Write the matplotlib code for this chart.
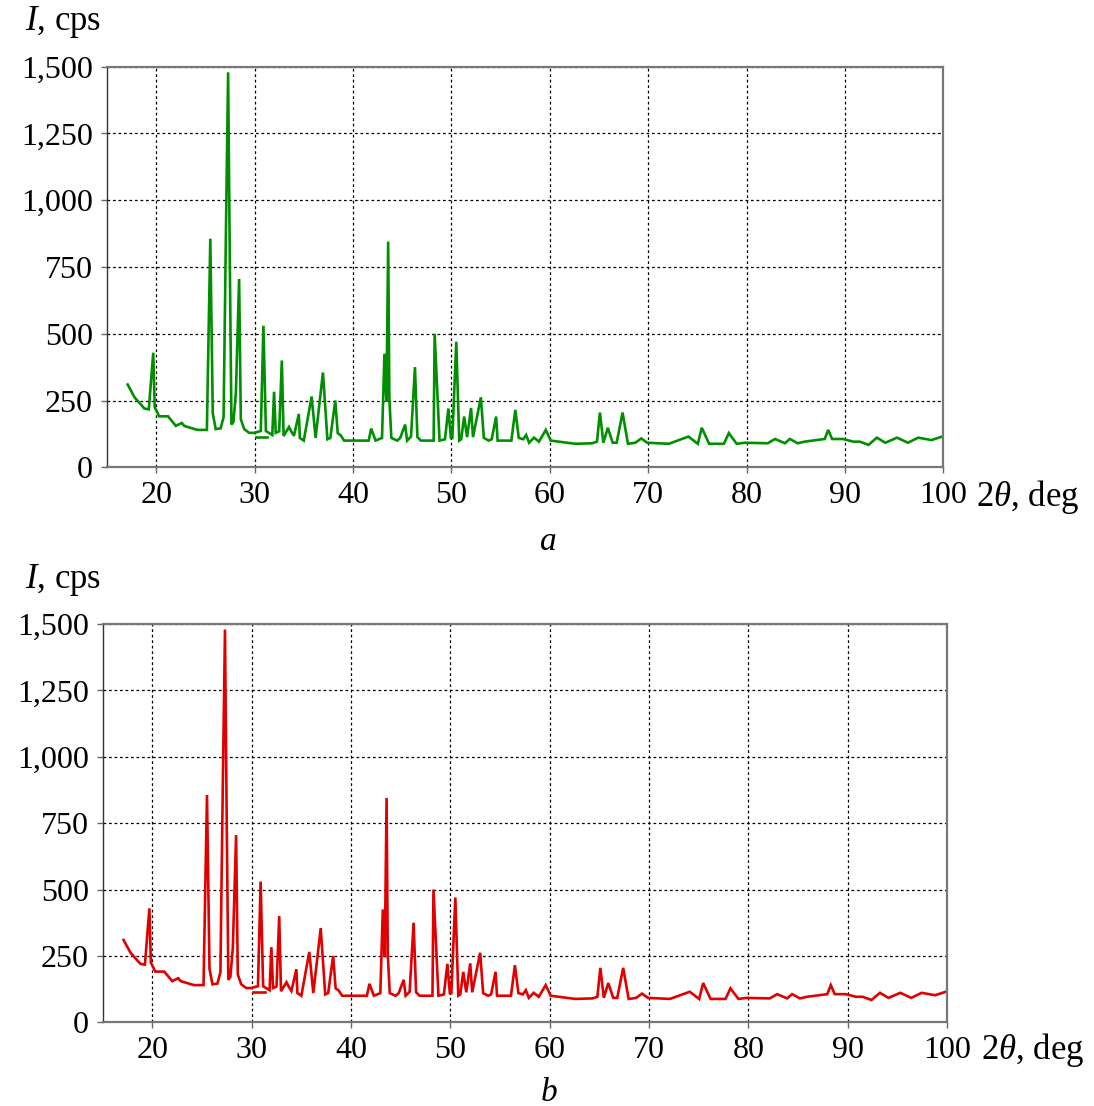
import numpy as np
import matplotlib
matplotlib.use('Agg')
import matplotlib.pyplot as plt
from matplotlib.ticker import FuncFormatter

plt.rcParams['font.family'] = ['Liberation Serif', 'DejaVu Serif']
plt.rcParams['mathtext.fontset'] = 'custom'
plt.rcParams['mathtext.rm'] = 'Liberation Serif'
plt.rcParams['mathtext.it'] = 'Liberation Serif:italic'

# diffraction pattern (2theta in deg, intensity in cps)
two_theta = [17.1, 17.8, 18.8, 19.25, 19.7, 19.85, 20.3, 21.2, 22.0, 22.6, 22.85, 24.2,
             25.15, 25.5, 25.75, 26.05, 26.55, 26.85, 27.08, 27.31, 27.49, 27.65, 27.85,
             28.1, 28.43, 28.6, 28.95, 29.45, 29.95, 30.63, 30.9, 31.15, 31.8, 31.98,
             32.15, 32.5, 32.77, 32.95, 33.5, 33.7, 34.0, 34.5, 34.6, 35.0, 35.8, 36.2,
             36.95, 37.4, 37.7, 38.2, 38.45, 38.75, 39.1, 41.6, 41.85, 42.3, 42.95, 43.2,
             43.4, 43.58, 43.7, 43.9, 44.5, 44.8, 45.3, 45.5, 45.9, 46.3, 46.55, 46.9,
             48.2, 48.3, 48.8, 49.35, 49.7, 49.95, 50.1, 50.5, 50.8, 51.0, 51.3, 51.6,
             52.0, 52.2, 53.0, 53.3, 53.8, 54.1, 54.55, 54.7, 56.1, 56.5, 56.85, 57.3,
             57.6, 57.9, 58.4, 58.9, 59.6, 60.1, 62.6, 64.3, 64.8, 65.1, 65.45, 65.9,
             66.4, 66.8, 67.4, 67.95, 68.7, 69.3, 69.9, 72.1, 74.1, 75.05, 75.45, 76.2,
             77.7, 78.2, 79.0, 79.85, 82.15, 82.9, 83.9, 84.4, 85.2, 85.9, 87.95, 88.3,
             88.7, 89.8, 90.85, 91.5, 92.4, 93.25, 94.1, 95.3, 96.4, 97.45, 98.8, 99.8]
intensity = [310, 262, 220, 217, 429, 225, 191, 191, 155, 166, 155, 140,
             140, 856, 202, 143, 146, 188, 860, 1479, 740, 160, 170,
             280, 705, 180, 143, 129, 129, 136, 530, 136, 121, 283,
             129, 135, 400, 117, 151, 136, 118, 200, 110, 100, 265, 110,
             355, 105, 110, 250, 128, 120, 100, 100, 145, 100, 110, 425,
             245, 845, 255, 110, 100, 110, 160, 100, 115, 375, 113, 100,
             100, 500, 100, 105, 220, 110, 110, 470, 100, 105, 190, 113,
             222, 113, 262, 110, 100, 105, 190, 100, 100, 215, 110, 105,
             121, 92, 111, 96, 140, 100, 88, 90, 96, 205, 92, 148,
             92, 92, 205, 88, 92, 108, 92, 88, 115, 88, 148, 88,
             88, 128, 88, 92, 90, 106, 90, 106, 90, 96, 106, 140,
             106, 106, 96, 96, 84, 111, 92, 111, 92, 111, 102, 114]

# short detached piece of the trace near 31 deg
piece_theta = [30.1, 31.3]
piece_int = [115, 115]

x_ticks = [20, 30, 40, 50, 60, 70, 80, 90, 100]
y_ticks = [0, 250, 500, 750, 1000, 1250, 1500]

panels = [
    # rect, colour, letter, letter pos, ylabel pos, xlabel pos (pixels)
    ([107 / 1094, 1 - 467.3 / 1106, 836.3 / 1094, 400.6 / 1106], '#008f00', 'a',
     (548, 542), (63, 22), (976, 497)),
    ([102.7 / 1094, 1 - 1022.3 / 1106, 844.3 / 1094, 398.3 / 1106], '#e00000', 'b',
     (549, 1093), (63, 580), (981, 1050)),
]

fig = plt.figure(figsize=(10.94, 11.06), dpi=100)

for rect, color, letter, letter_xy, ylab_xy, xlab_xy in panels:
    ax = fig.add_axes(rect)
    ax.plot(two_theta, intensity, color=color, lw=1.9, solid_joinstyle='miter')
    ax.plot(piece_theta, piece_int, color=color, lw=1.9)
    ax.set_xlim(15, 100)
    ax.set_ylim(0, 1500)
    ax.set_xticks(x_ticks)
    ax.set_yticks(y_ticks)
    ax.yaxis.set_major_formatter(FuncFormatter(lambda v, p: f'{int(v):,}'))
    ax.grid(True, color='black', linestyle=(0, (2.2, 2.2)), lw=0.9)
    ax.tick_params(labelsize=23, length=4, width=1, color='#666666', pad=6)
    for s in ax.spines.values():
        s.set_color('#777777')
        s.set_linewidth(1.6)
    ax.spines['left'].set_color('#333333')
    ax.spines['left'].set_linewidth(1.0)

    fig.text(ylab_xy[0] / 1094, 1 - ylab_xy[1] / 1106, r'$I$, cps',
             fontsize=25, ha='center', va='center')
    fig.text(xlab_xy[0] / 1094, 1 - xlab_xy[1] / 1106, r'2$\theta$, deg',
             fontsize=25, ha='left', va='center')
    fig.text(letter_xy[0] / 1094, 1 - letter_xy[1] / 1106, letter,
             fontsize=24, style='italic', ha='center', va='center')

plt.savefig('out.png', dpi=100)
